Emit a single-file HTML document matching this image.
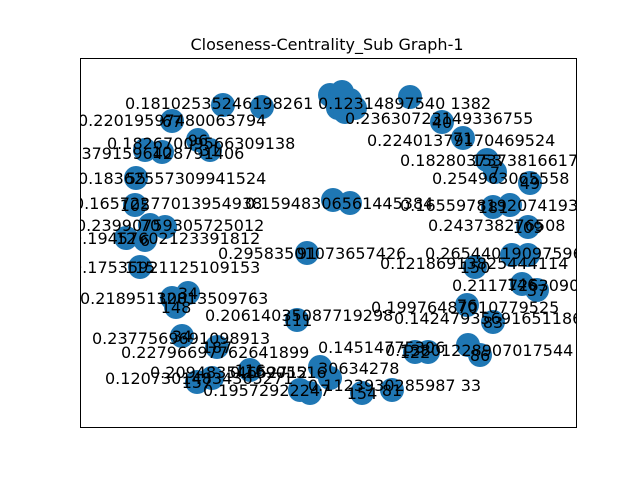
<!DOCTYPE html>
<html><head><meta charset="utf-8"><style>
body{margin:0;background:#fff}
svg text{font-family:"DejaVu Sans","Liberation Sans",sans-serif}
</style></head><body>
<svg id="c" width="640" height="480" xmlns="http://www.w3.org/2000/svg">
<defs><clipPath id="clip"><rect x="80" y="58" width="497" height="370"/></clipPath></defs>
<rect width="640" height="480" fill="#fff"/>
<text x="327" y="50" font-size="16" text-anchor="middle">Closeness-Centrality_Sub Graph-1</text>
<g id="nodes" clip-path="url(#clip)"></g>
<g id="labels" clip-path="url(#clip)"></g>
<rect x="80.5" y="58.5" width="496" height="369" fill="none" stroke="#000" stroke-width="1"/>
</svg>
<script>
const nodeX=[143,182,92,118,130,65,82,56,55,70,85,46,65,253,270,250,262,270,258,275,265,330,362,383,407,415,450,413,430,448,227,60,92,108,96,217,102,137,117,132,170,240,250,230,220,395,432,448,442,457,387,413,335,348,400,388,282,312];
const nodeY=[47,49,63,82,92,92,94,120,147,167,169,180,182,142,145,37,34,42,50,50,54,39,64,80,102,114,125,149,147,169,195,209,240,235,249,262,278,289,324,320,312,309,320,335,332,209,197,197,226,232,247,264,294,294,297,287,335,332];
const labelText=["0.18102535246198261","0.22019597480063794","0.18267009566309138","0.23791596428791406","0.18362557309941524","0.16572277013954938","0.23990759305725012","0.19457602123391812","0.15948306561445384","0.29583501073657426","0.17535921125109153","0.21895132813509763","0.20614035087719298","0.2377569691098913","0.22796697762641899","0.12073014834365271","0.20948354652712","0.19572922247","0.16905516","0.14514775306","30634278","0.1123930285987 33","0.23630723149336755","0.22401379170469524","0.1828037373816617","0.254963065558","0.1655978192074193","0.243738276508","0.26544019097596","0.12186913825444114","0.211772630900","0.19976487010779525","0.14247935691651186","0.13801228907017544","0.12314897540 1382"];
const labelX=[45,-2,27,-24,-2,-6,-4,-8,165,138,-8,0,125,12,41,25,70,123,150,238,238,228,265,287,320,352,320,348,345,300,372,291,314,305,238];
const labelY=[45,62,85,95,120,145,167,180,145,195,209,240,257,280,294,320,314,332,314,289,310,327,60,82,102,120,147,167,195,205,227,249,260,292,45];
const nodeId=["","","67","96","31","","10","55","105","70","","12","6","","","","","","","","","","40","71","153","7","49","181","","109","91","115","100","34","148","111","34","187","157","","116","","","","","150","","","146","37","76","83","122","","86","","154","81"];
const xs=v=>80+v, ys=v=>58+v;
const ns="http://www.w3.org/2000/svg";
const gN=document.getElementById('nodes'), gL=document.getElementById('labels');
nodeX.forEach((x,i)=>{
 const c=document.createElementNS(ns,'circle');
 c.setAttribute('cx',xs(x));c.setAttribute('cy',ys(nodeY[i]));c.setAttribute('r',12);c.setAttribute('fill','#1f77b4');
 
 
 gN.appendChild(c);
 if(nodeId[i]){const t=document.createElementNS(ns,'text');
 t.setAttribute('x',xs(x));t.setAttribute('y',ys(nodeY[i])+6);t.setAttribute('font-size','16');t.setAttribute('text-anchor','middle');
 t.textContent=nodeId[i];
 
 
 gL.appendChild(t);}
});
labelText.forEach((s,i)=>{
 const t=document.createElementNS(ns,'text');
 t.setAttribute('x',xs(labelX[i]));t.setAttribute('y',ys(labelY[i])+6);t.setAttribute('font-size','16');
 t.textContent=s;
 
 
 gL.appendChild(t);
});
</script>
</body></html>
